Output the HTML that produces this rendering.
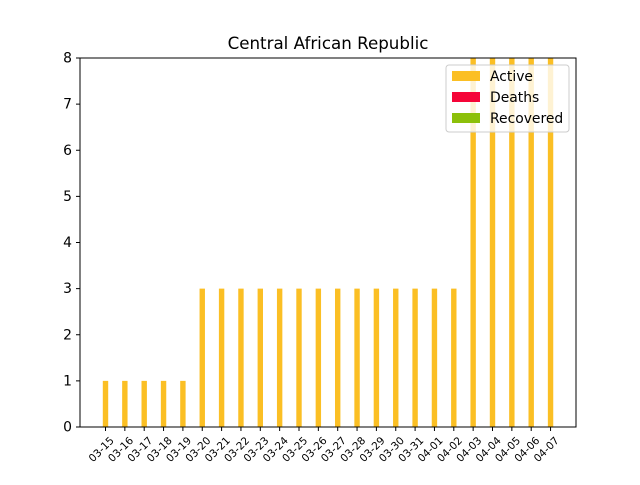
<!DOCTYPE html>
<html><head><meta charset="utf-8"><style>body{margin:0;background:#fff}svg{font-family:"DejaVu Sans","Liberation Sans",sans-serif}</style></head>
<body>
<svg id="c" width="640" height="480">
<rect width="640" height="480" fill="#fff"/>
<text x="328" y="49" text-anchor="middle" font-size="16.7">Central African Republic</text>
<g id="bars"></g><g id="xt"></g><g id="yt"></g>
<rect x="80" y="58" width="496" height="369" fill="none" stroke="#000" stroke-width="1"/>
<g>
<rect x="446" y="65" width="123" height="67" fill="#fff" fill-opacity="0.8" stroke="#ccc" rx="3"/>
<g><rect x="452" y="71" width="28" height="10" fill="#fbbf24"/><text x="490" y="81" font-size="13.9">Active</text></g>
<g><rect x="452" y="92" width="28" height="10" fill="#f50538"/><text x="490" y="102" font-size="13.9">Deaths</text></g>
<g><rect x="452" y="113" width="28" height="10" fill="#8cc00a"/><text x="490" y="123" font-size="13.9">Recovered</text></g>
</g>
</svg>
<script>
const categories=["03-15","03-16","03-17","03-18","03-19","03-20","03-21","03-22","03-23","03-24","03-25","03-26","03-27","03-28","03-29","03-30","03-31","04-01","04-02","04-03","04-04","04-05","04-06","04-07"];
const active=[1,1,1,1,1,3,3,3,3,3,3,3,3,3,3,3,3,3,3,8,8,8,8,8];
const deaths=[0,0,0,0,0,0,0,0,0,0,0,0,0,0,0,0,0,0,0,0,0,0,0,0];
const recovered=[0,0,0,0,0,0,0,0,0,0,0,0,0,0,0,0,0,0,0,0,0,0,0,0];
const yTicks=[0,1,2,3,4,5,6,7,8];
const NS="http://www.w3.org/2000/svg";
const x=i=>105.5+i*19.35;
const y=v=>427-v*(369/8);
function mk(t,a,p){const e=document.createElementNS(NS,t);for(const k in a)e.setAttribute(k,a[k]);p.appendChild(e);return e;}
const B=document.getElementById('bars'),XT=document.getElementById('xt'),YT=document.getElementById('yt');
categories.forEach((c,i)=>{
 let b=0;
 [[active,'#fbbf24','active'],[deaths,'#f50538','deaths'],[recovered,'#8cc00a','recovered']].forEach(([s,col,n])=>{
  const v=s[i];if(v<=0)return;
  const r=mk('rect',{x:x(i)-2.7,y:y(b+v),width:5.4,height:y(b)-y(b+v),fill:col},B);
  
  
  b+=v;});
 const t=mk('line',{x1:x(i),x2:x(i),y1:427,y2:431,stroke:'#000'},XT);
 
 
 const l=mk('text',{x:x(i)+4,y:436,'font-size':'10.5','text-anchor':'end',transform:`rotate(-45 ${x(i)+4} 436)`,'dominant-baseline':'hanging'},XT);
 l.textContent=c;
 
 
});
yTicks.forEach(v=>{
 const t=mk('line',{x1:76,x2:80,y1:y(v),y2:y(v),stroke:'#000'},YT);
 
 
 const l=mk('text',{x:72,y:y(v)+4.5,'font-size':'13.9','text-anchor':'end'},YT);
 l.textContent=v;
 
 
});
</script>
</body></html>
